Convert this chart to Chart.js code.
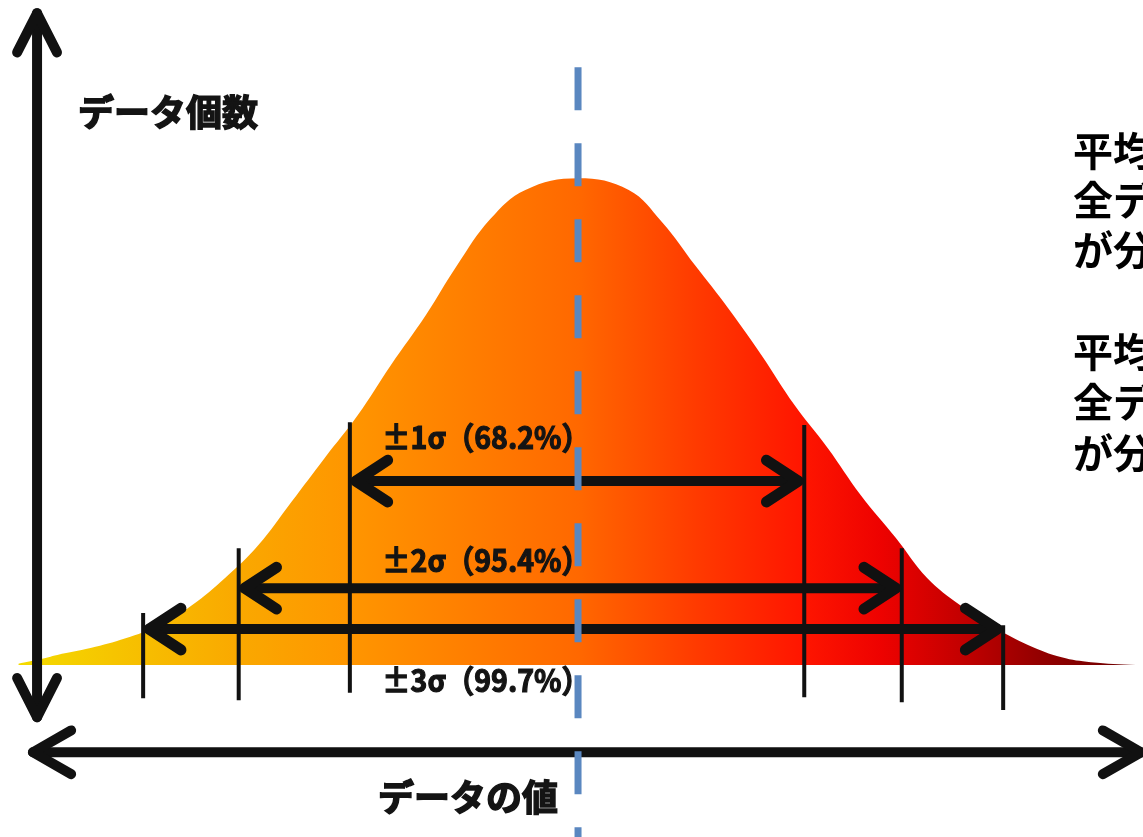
<!DOCTYPE html>
<html lang="ja">
<head>
<meta charset="utf-8">
<title>正規分布</title>
<script src="https://cdn.jsdelivr.net/npm/chart.js"></script>
<style>
  html, body { margin: 0; padding: 0; background: #fff; }
  canvas { display: block; }
</style>
</head>
<body>
<canvas id="normalChart" width="1143" height="837"></canvas>
<script>
// curve: x in σ-ish units from the mean, y = count relative to the peak (100)
const curveX = [-2.87, -2.76, -2.67, -2.50, -2.32, -2.15, -1.98, -1.81, -1.64, -1.47, -1.30, -1.13, -0.96, -0.78, -0.62, -0.45, -0.27, 0, 0.26, 0.43, 0.60, 0.77, 0.94, 1.11, 1.28, 1.45, 1.63, 1.79, 1.96, 2.14, 2.31, 2.48, 2.63, 2.86];
const curveY = [0.3, 1.2, 2.1, 3.5, 5.5, 8.2, 12.3, 17.9, 24.6, 33.5, 42.5, 51.3, 61.6, 71.9, 82.1, 91.6, 97.6, 100, 97.6, 91.0, 82.1, 73.3, 63.7, 53.4, 44.6, 34.9, 26.1, 17.9, 12.3, 7.6, 4.1, 1.6, 0.6, 0];

// σ ranges
const sigmaLabels = ['±1σ（68.2%）', '±2σ（95.4%）', '±3σ（99.7%）'];
const sigmaLow = [-1.17, -1.74, -2.23];
const sigmaHigh = [1.16, 1.66, 2.18];

// axis titles and side notes
const yTitle = 'データ個数';
const xTitle = 'データの値';
const noteLines = ['平均', '全デ', 'が分', '平均', '全デ', 'が分'];

// layout (data units)
const X_MIN = -2.964, X_MAX = 2.897;
const Y_MIN = -35.3, Y_MAX = 136.6;
const arrowY = [37.8, 15.8, 7.4];
const tickTopLow = [49.9, 24.0, 10.7];
const tickTopHigh = [49.3, 24.0, 8.2];
const tickBotLow = [-5.7, -7.2, -6.8];
const tickBotHigh = [-6.6, -7.6, -9.2];
const labelY = [46.8, 21.6, -3.1];
const labelX = -1.005;
const noteX = 2.538;
const noteY = [105.7, 95.5, 85.2, 64.3, 54.0, 43.7];
const FONT = '"Noto Sans CJK JP", "Noto Sans", sans-serif';

function chevron(ctx, x, y, dir, len, ang) {
    ctx.beginPath();
    ctx.moveTo(x + Math.cos(dir + Math.PI - ang) * len, y + Math.sin(dir + Math.PI - ang) * len);
    ctx.lineTo(x, y);
    ctx.lineTo(x + Math.cos(dir + Math.PI + ang) * len, y + Math.sin(dir + Math.PI + ang) * len);
    ctx.stroke();
}

const overlay = {
    id: 'overlay',
    afterDatasetDraw(chart, args) {
        if (args.index !== 0) return;
        const ctx = chart.ctx;
        const px = v => chart.scales.x.getPixelForValue(v);
        const py = v => chart.scales.y.getPixelForValue(v);
        ctx.save();
        ctx.strokeStyle = '#111';
        ctx.lineCap = 'round';
        ctx.lineJoin = 'round';

        // σ ticks and double arrows
        sigmaLow.forEach((lo, i) => {
            const xl = px(lo), xr = px(sigmaHigh[i]), ya = py(arrowY[i]);
            ctx.lineWidth = 4;
            ctx.lineCap = 'butt';
            ctx.beginPath();
            ctx.moveTo(xl, py(tickTopLow[i])); ctx.lineTo(xl, py(tickBotLow[i]));
            ctx.moveTo(xr, py(tickTopHigh[i])); ctx.lineTo(xr, py(tickBotHigh[i]));
            ctx.stroke();
            ctx.lineCap = 'round';
            ctx.lineWidth = 10;
            ctx.beginPath();
            ctx.moveTo(xl + 6, ya); ctx.lineTo(xr - 6, ya);
            ctx.stroke();
            ctx.lineWidth = 11;
            chevron(ctx, xl + 6, ya, Math.PI, 38, 0.58);
            chevron(ctx, xr - 6, ya, 0, 38, 0.58);
        });

        // axes
        const ax = px(-2.774);
        ctx.lineWidth = 10;
        ctx.beginPath();
        ctx.moveTo(ax, py(133.9)); ctx.lineTo(ax, py(-10.7));
        ctx.stroke();
        chevron(ctx, ax, py(133.9), -Math.PI / 2, 44, 0.47);
        chevron(ctx, ax, py(-10.7), Math.PI / 2, 44, 0.47);
        const ay = py(-17.9);
        ctx.beginPath();
        ctx.moveTo(px(-2.795), ay); ctx.lineTo(px(2.887), ay);
        ctx.stroke();
        chevron(ctx, px(-2.795), ay, Math.PI, 44, 0.52);
        chevron(ctx, px(2.887), ay, 0, 44, 0.52);
        ctx.restore();
    },
    afterDraw(chart) {
        const ctx = chart.ctx;
        const px = v => chart.scales.x.getPixelForValue(v);
        const py = v => chart.scales.y.getPixelForValue(v);
        ctx.save();
        ctx.fillStyle = '#141414';
        ctx.strokeStyle = '#141414';
        ctx.textBaseline = 'middle';
        ctx.textAlign = 'left';

        ctx.font = 'bold 31px ' + FONT;
        ctx.lineWidth = 1.2;
        sigmaLabels.forEach((t, i) => {
            ctx.fillText(t, px(labelX), py(labelY[i]), 208);
            ctx.strokeText(t, px(labelX), py(labelY[i]), 208);
        });

        ctx.font = 'bold 36px ' + FONT;
        ctx.lineWidth = 1.5;
        ctx.fillText(yTitle, px(-2.564), py(113.6), 184);
        ctx.strokeText(yTitle, px(-2.564), py(113.6), 184);
        ctx.fillText(xTitle, px(-1.026), py(-27.1), 186);
        ctx.strokeText(xTitle, px(-1.026), py(-27.1), 186);

        ctx.fillStyle = '#000';
        ctx.font = 'bold 40px ' + FONT;
        noteLines.forEach((t, i) => ctx.fillText(t, px(noteX), py(noteY[i])));
        ctx.restore();
    }
};

new Chart(document.getElementById('normalChart'), {
    type: 'line',
    data: {
        datasets: [{
            data: curveX.map((x, i) => ({ x, y: curveY[i] })),
            order: 2,
            fill: 'origin',
            borderWidth: 0,
            pointRadius: 0,
            tension: 0.4,
            backgroundColor: (c) => {
                const area = c.chart.chartArea;
                if (!area) return '#ff6a00';
                const g = c.chart.ctx.createLinearGradient(area.left, 0, area.right, 0);
                g.addColorStop(0.015, '#f4dc00');
                g.addColorStop(0.10, '#f6c400');
                g.addColorStop(0.21, '#faa800');
                g.addColorStop(0.31, '#ff9500');
                g.addColorStop(0.506, '#ff6800');
                g.addColorStop(0.61, '#ff3a00');
                g.addColorStop(0.70, '#ff1600');
                g.addColorStop(0.77, '#ee0200');
                g.addColorStop(0.84, '#c40000');
                g.addColorStop(0.91, '#930000');
                g.addColorStop(0.99, '#6c0000');
                return g;
            }
        }, {
            data: [{ x: 0, y: 122.8 }, { x: 0, y: Y_MIN }],
            order: 1,
            fill: false,
            borderColor: '#5a87c0',
            borderWidth: 7,
            borderDash: [43, 33],
            borderCapStyle: 'butt',
            pointRadius: 0
        }]
    },
    options: {
        responsive: false,
        animation: false,
        devicePixelRatio: 1,
        layout: { padding: 0 },
        plugins: { legend: { display: false }, tooltip: { enabled: false } },
        scales: {
            x: { type: 'linear', display: false, min: X_MIN, max: X_MAX },
            y: { type: 'linear', display: false, min: Y_MIN, max: Y_MAX }
        }
    },
    plugins: [overlay]
});
</script>
</body>
</html>
